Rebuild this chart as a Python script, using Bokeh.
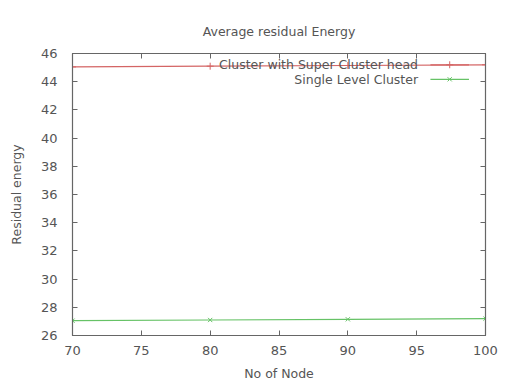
from bokeh.plotting import figure
from bokeh.models import LinearAxis, Range1d, Label, FixedTicker
from bokeh.embed import file_html
from bokeh.resources import INLINE

# ---- data ----
nodes = [70, 80, 90, 100]
super_cluster = [45.05, 45.1, 45.15, 45.2]
single_level = [27.05, 27.1, 27.15, 27.2]
x_ticks = [70, 75, 80, 85, 90, 95, 100]
y_ticks = [26, 28, 30, 32, 34, 36, 38, 40, 42, 44, 46]
series_names = ["Cluster with Super Cluster head", "Single Level Cluster"]

RED = "#d46565"
GREEN = "#66c266"
TXT = "#555555"
AX = "#666666"
FONT = "DejaVu Sans"

p = figure(width=505, height=383, output_backend="svg", toolbar_location=None,
           x_range=Range1d(70, 100), y_range=Range1d(26, 46),
           min_border_left=72, min_border_right=20, min_border_top=53, min_border_bottom=46)
p.background_fill_color = "white"
p.border_fill_color = "white"
p.grid.visible = False
p.outline_line_color = AX
p.outline_line_width = 1.2

def style_axis(ax):
    ax.axis_line_color = AX
    ax.major_tick_line_color = AX
    ax.major_tick_in = 5
    ax.major_tick_out = 0
    ax.minor_tick_line_color = None
    ax.major_label_text_font = FONT
    ax.major_label_text_font_size = "13px"
    ax.major_label_text_color = TXT
    ax.axis_label_text_font = FONT
    ax.axis_label_text_font_size = "12.5px"
    ax.axis_label_text_font_style = "normal"
    ax.axis_label_text_color = TXT

p.xaxis.ticker = FixedTicker(ticks=x_ticks)
p.yaxis.ticker = FixedTicker(ticks=y_ticks)
for ax in p.xaxis + p.yaxis:
    style_axis(ax)
p.xaxis.axis_label = "No of Node"
p.yaxis.axis_label = "Residual energy"
p.xaxis.major_label_standoff = 10
p.xaxis.axis_label_standoff = 8
p.yaxis.major_label_standoff = 15
p.yaxis.axis_label_standoff = 14

# mirror axes (ticks only, no labels)
top = LinearAxis(ticker=FixedTicker(ticks=x_ticks),
                 major_label_overrides={t: "" for t in x_ticks},
                 axis_line_color=AX, major_tick_line_color=AX, major_tick_in=5,
                 major_tick_out=0, minor_tick_line_color=None, major_label_standoff=0)
right = LinearAxis(ticker=FixedTicker(ticks=y_ticks),
                   major_label_overrides={t: "" for t in y_ticks},
                   axis_line_color=AX, major_tick_line_color=AX, major_tick_in=5,
                   major_tick_out=0, minor_tick_line_color=None, major_label_standoff=0)
p.add_layout(top, "above")
p.add_layout(right, "right")

p.title.text = "Average residual Energy"
p.title.align = "center"
p.title.text_font = FONT
p.title.text_font_size = "12.5px"
p.title.text_font_style = "normal"
p.title.text_color = TXT
p.title.standoff = 30

# series
p.line(nodes, super_cluster, line_color=RED, line_width=1.2)
p.scatter(nodes, super_cluster, marker="cross", size=7, line_color=RED, line_width=1)
p.line(nodes, single_level, line_color=GREEN, line_width=1.2)
p.scatter(nodes, single_level, marker="x", size=6, line_color=GREEN, line_width=1)

# legend (gnuplot style: text then sample)
leg_text_x = 95.1
leg_y = [super_cluster[-1], 44.17]
leg_x0, leg_x1, leg_xm = 96.0, 98.8, 97.4
for name, yy, col, mk in zip(series_names, leg_y, [RED, GREEN], ["cross", "x"]):
    p.add_layout(Label(x=leg_text_x, y=yy, text=name, text_align="right", text_baseline="middle",
                       text_font=FONT, text_font_size="12.5px", text_color=TXT))
    p.line([leg_x0, leg_x1], [yy, yy], line_color=col, line_width=1.2)
    p.scatter([leg_xm], [yy], marker=mk, size=7 if mk == "cross" else 6, line_color=col)

open("out.html", "w").write(file_html(p, INLINE))
